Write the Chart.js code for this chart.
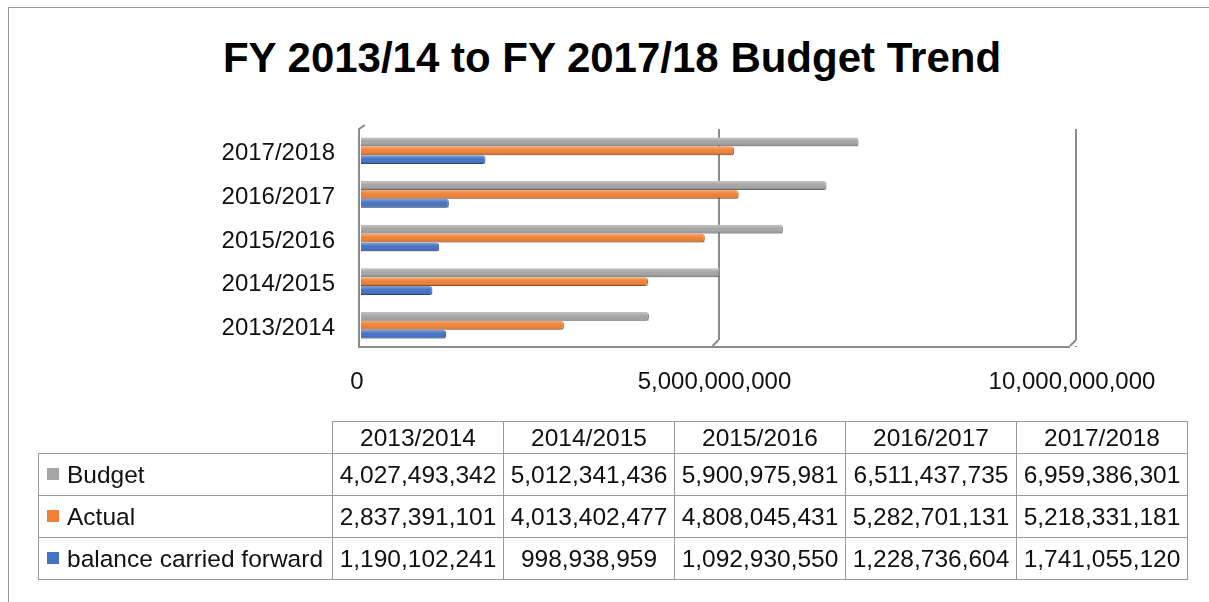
<!DOCTYPE html>
<html>
<head>
<meta charset="utf-8">
<script src="https://cdn.jsdelivr.net/npm/chart.js@4/dist/chart.umd.min.js"></script>
<style>
  html, body { margin:0; padding:0; background:#fff; }
  body { width:1209px; height:602px; position:relative; overflow:hidden; font-family:"Liberation Sans", Arial, sans-serif; }
  #frame { position:absolute; left:8px; top:7px; width:1300px; height:700px; border:1px solid #9a9a9a; box-sizing:border-box; }
  #title { position:absolute; left:0; width:1224px; top:34px; text-align:center; font-size:42px; font-weight:bold; color:#000; white-space:nowrap; }
  #wrap { position:absolute; left:0; top:0; width:1209px; height:602px; }
  #tbl { position:absolute; left:38px; top:421px; border-collapse:collapse; font-size:24.5px; color:#111; }
  #tbl td { border:1.5px solid #9a9a9a; height:41px; padding:0; text-align:center; white-space:nowrap; }
  #tbl tr.head td { height:31px; }
  #tbl td.num { width:170px; }
  #tbl td.lbl { width:293px; text-align:left; }
  #tbl td.blank { border:none; }
  .sw { display:inline-block; width:12px; height:12px; margin:0 8px 0 8px; vertical-align:middle; position:relative; top:-2px; }
</style>
</head>
<body>
<div id="frame"></div>
<div id="title">FY 2013/14 to FY 2017/18 Budget Trend</div>
<div id="wrap"><canvas id="c" width="1209" height="602"></canvas></div>
<table id="tbl"></table>
<script>
const years   = ['2013/2014','2014/2015','2015/2016','2016/2017','2017/2018'];
const budget  = [4027493342, 5012341436, 5900975981, 6511437735, 6959386301];
const actual  = [2837391101, 4013402477, 4808045431, 5282701131, 5218331181];
const balance = [1190102241,  998938959, 1092930550, 1228736604, 1741055120];
const xTicks  = [0, 5000000000, 10000000000];

const FONT = '"Liberation Sans", Arial, sans-serif';
const LINE = '#8c8c8c';
const series = [
  {label:'Budget',                  data:budget,  color:'#a5a5a5', edge:'#7f7f7f'},
  {label:'Actual',                  data:actual,  color:'#f08135', edge:'#b65a1c'},
  {label:'balance carried forward', data:balance, color:'#4472c4', edge:'#2f528f'}
];

// data table under the chart
const tbl = document.getElementById('tbl');
let html = '<tr class="head"><td class="blank lbl"></td>' + years.map(y=>`<td class="num">${y}</td>`).join('') + '</tr>';
series.forEach(s=>{
  html += `<tr><td class="lbl"><span class="sw" style="background:${s.color}"></span>${s.label}</td>` +
          s.data.map(v=>`<td class="num">${v.toLocaleString('en-US')}</td>`).join('') + '</tr>';
});
tbl.innerHTML = html;

// shading on the bars so they look a bit like the 3D cylinders
const shade = {
  id:'shade',
  afterDatasetsDraw(chart) {
    const ctx = chart.ctx;
    ctx.save();
    chart.data.datasets.forEach((ds, i) => {
      chart.getDatasetMeta(i).data.forEach(el => {
        const {x, y, base, height} = el.getProps(['x','y','base','height'], true);
        const top = y - height/2;
        const g = ctx.createLinearGradient(0, top, 0, top + height);
        g.addColorStop(0, 'rgba(255,255,255,0.35)');
        g.addColorStop(0.45, 'rgba(255,255,255,0)');
        g.addColorStop(1, 'rgba(0,0,0,0.22)');
        ctx.fillStyle = g;
        ctx.fillRect(base, top, x - base, height);
      });
    });
    ctx.restore();
  }
};

// wall, floor and little 3D feet
const floor3d = {
  id:'floor3d',
  afterDraw(chart) {
    const {ctx, chartArea:a, scales:{x}} = chart;
    const r = x.getPixelForValue(10000000000);
    ctx.save();
    ctx.strokeStyle = LINE;
    ctx.lineWidth = 2;
    ctx.beginPath();
    ctx.moveTo(a.left + 4, a.top - 4);
    ctx.lineTo(a.left - 2, a.top);
    ctx.lineTo(a.left - 2, a.bottom);
    ctx.lineTo(r - 6, a.bottom);
    ctx.stroke();
    xTicks.slice(1).forEach(v=>{
      const px = x.getPixelForValue(v);
      ctx.clearRect(px - 2, a.bottom - 7, 4, 6);
      ctx.beginPath();
      ctx.moveTo(px, a.bottom - 7);
      ctx.lineTo(px - 6, a.bottom - 1);
      ctx.stroke();
    });
    ctx.restore();
  }
};

new Chart(document.getElementById('c'), {
  type:'bar',
  data:{
    labels:years,
    datasets:series.map(s=>({
      label:s.label, data:s.data,
      backgroundColor:s.color, borderColor:s.edge, borderWidth:{top:0, bottom:1, right:1},
      borderRadius:{topRight:3, bottomRight:3}, borderSkipped:'left',
      categoryPercentage:0.61, barPercentage:1
    }))
  },
  options:{
    indexAxis:'y',
    responsive:false,
    animation:false,
    layout:{padding:{left:0, right:133, top:129, bottom:0}},
    plugins:{
      legend:{display:false},
      tooltip:{enabled:false},
      title:{display:false}
    },
    scales:{
      y:{
        reverse:true,
        grid:{display:false, drawTicks:false},
        border:{display:false},
        ticks:{color:'#111', font:{family:FONT, size:24}, padding:26, labelOffset:3},
        afterFit(s){ s.width = 361; }
      },
      x:{
        min:0, max:10000000000,
        afterBuildTicks(s){ s.ticks = xTicks.map(v=>({value:v})); },
        grid:{color:LINE, lineWidth:[0,2,2], drawTicks:false},
        border:{display:false},
        ticks:{color:'#111', font:{family:FONT, size:24}, padding:21, labelOffset:-4,
               callback:v=>Number(v).toLocaleString('en-US')},
        afterFit(s){ s.height = 602 - 347; }
      }
    }
  },
  plugins:[shade, floor3d]
});
</script>
</body>
</html>
